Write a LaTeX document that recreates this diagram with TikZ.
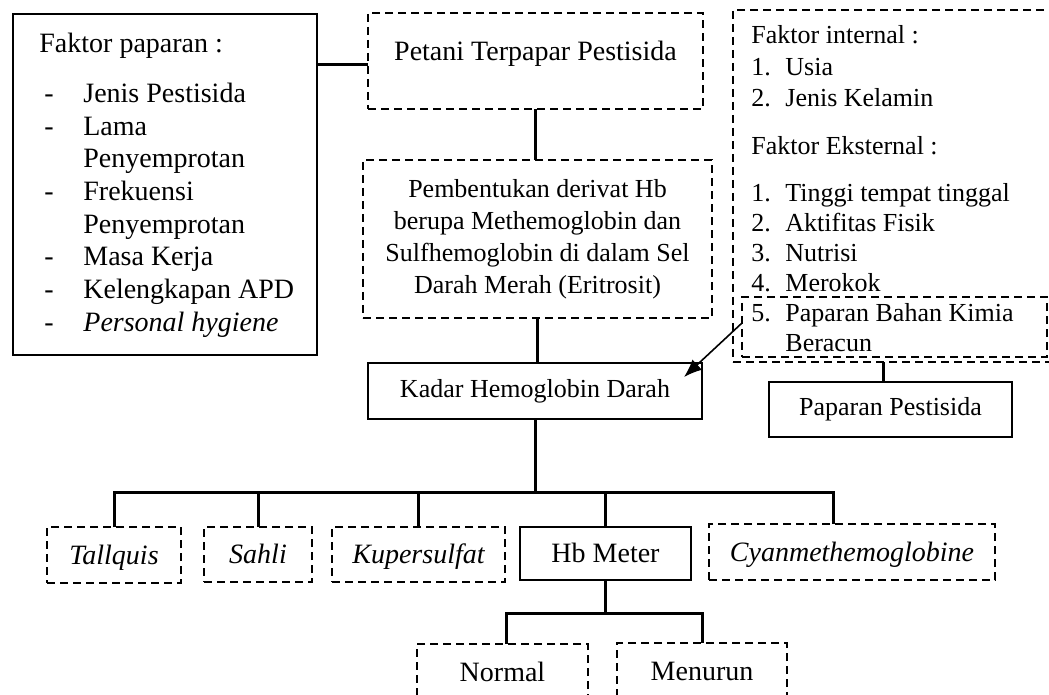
\documentclass[tikz,border=0pt]{standalone}
\usepackage{fontspec}
\setmainfont{Liberation Serif}
\usetikzlibrary{arrows.meta}

\tikzset{
  solidbox/.style={draw, line width=1pt, outer sep=0pt, inner sep=0pt},
  dashbox/.style={draw, line width=1pt, dash pattern=on 4pt off 2.5pt, outer sep=0pt, inner sep=0pt},
  small/.style={font=\fontsize{13}{16}\selectfont},
  italic/.style={font=\fontsize{14}{16}\selectfont\itshape},
  leaf/.style={text height=11pt, text depth=2pt},
  conn/.style={line width=1.5pt},
}

\begin{document}
\begin{tikzpicture}[x=0.5pt, y=-0.5pt, every node/.style={font=\fontsize{14}{16}\selectfont}]
\useasboundingbox (0,0) rectangle (1049,695);

\node[solidbox, minimum width=152pt, minimum height=170.5pt] (faktor) at (165,184.5) {};
\node[anchor=base west, inner sep=0pt] (paparanlist) at (39,53) {\def\arraystretch{1.02}\begin{tabular}[t]{@{}p{22pt}@{}l@{}}
\multicolumn{2}{@{}l@{}}{Faktor paparan :}\\[8.5pt]
\hspace{2.5pt}- & Jenis Pestisida\\
\hspace{2.5pt}- & Lama\\
 & Penyemprotan\\
\hspace{2.5pt}- & Frekuensi\\
 & Penyemprotan\\
\hspace{2.5pt}- & Masa Kerja\\
\hspace{2.5pt}- & Kelengkapan APD\\
\hspace{2.5pt}- & \textit{Personal hygiene}
\end{tabular}};

\node[dashbox, minimum width=167.5pt, minimum height=48pt, text height=6pt, text depth=6pt] (petani) at (535.5,61) {Petani Terpapar Pestisida};
\node[dashbox, small, minimum width=174.5pt, minimum height=79pt, align=center] (pemb) at (537.5,239) {Pembentukan derivat Hb\\berupa Methemoglobin dan\\Sulfhemoglobin di dalam Sel\\Darah Merah (Eritrosit)};
\node[solidbox, small, minimum width=167pt, minimum height=28pt] (kadar) at (535,391) {Kadar Hemoglobin Darah};

\node[dashbox, minimum width=168.5pt, minimum height=176pt] (ext) at (901.5,186) {};
\node[small, anchor=base west, inner sep=0pt] (internal) at (751,44) {\def\arraystretch{0.97}\begin{tabular}[t]{@{}p{17pt}@{}l@{}}
\multicolumn{2}{@{}l@{}}{Faktor internal :}\\
1. & Usia\\
2. & Jenis Kelamin
\end{tabular}};
\node[small, anchor=base west, inner sep=0pt] (eksternal) at (751,155) {\def\arraystretch{0.9375}\begin{tabular}[t]{@{}p{17pt}@{}l@{}}
\multicolumn{2}{@{}l@{}}{Faktor Eksternal :}\\[8.5pt]
1. & Tinggi tempat tinggal\\
2. & Aktifitas Fisik\\
3. & Nutrisi\\
4. & Merokok\\
5. & Paparan Bahan Kimia\\
 & Beracun
\end{tabular}};
\node[dashbox, minimum width=152.5pt, minimum height=30pt] (bahan) at (894.5,327) {};
\node[solidbox, small, minimum width=121.5pt, minimum height=27.5pt] (papar) at (890.5,409.5) {Paparan Pestisida};

\node[dashbox, italic, leaf, minimum width=67pt, minimum height=28pt] (tallquis) at (114,555) {Tallquis};
\node[dashbox, italic, leaf, minimum width=54pt, minimum height=27.5pt] (sahli) at (258,554.5) {Sahli};
\node[dashbox, italic, leaf, minimum width=86.5pt, minimum height=27.5pt] (kuper) at (418.5,554.5) {Kupersulfat};
\node[solidbox, leaf, minimum width=85.5pt, minimum height=26.5pt] (hbmeter) at (605.5,553.5) {Hb Meter};
\node[dashbox, italic, leaf, minimum width=143pt, minimum height=28pt] (cyan) at (852,552) {Cyanmethemoglobine};
\node[dashbox, leaf, minimum width=85.5pt, minimum height=28pt] (normal) at (502.5,672) {Normal};
\node[dashbox, leaf, minimum width=85pt, minimum height=28pt] (menurun) at (702,671) {Menurun};

% connectors
\draw[conn] ([yshift=-2pt]petani.west) -- ([yshift=-2pt]petani.west -| faktor.east);
\draw[conn] (petani.south) -- (petani.south |- pemb.north);
\draw[conn] (pemb.south) -- (pemb.south |- kadar.north);
\draw[conn] ([xshift=-3.75pt]papar.north) -- ([xshift=-3.75pt]papar.north |- ext.south);
\coordinate (tip) at (684,377);
\draw[-{Latex[length=9pt,width=7pt]}, line width=0.8pt] ([yshift=2pt]bahan.west) -- (tip);

\coordinate (bus) at (0,492);
\coordinate (cyantop) at ([xshift=-9.5pt]cyan.north);
\draw[conn] (kadar.south) -- (kadar.south |- bus);
\draw[conn] (tallquis.north) -- (tallquis.north |- bus) -- (cyantop |- bus) -- (cyantop);
\foreach \n in {sahli,kuper,hbmeter}
  \draw[conn] (\n.north) -- (\n.north |- bus);

\coordinate (bus2) at (0,613);
\coordinate (normaltop) at ([xshift=1.75pt]normal.north);
\draw[conn] (hbmeter.south) -- (hbmeter.south |- bus2);
\draw[conn] (normaltop) -- (normaltop |- bus2) -- (menurun.north |- bus2) -- (menurun.north);
\end{tikzpicture}
\end{document}
